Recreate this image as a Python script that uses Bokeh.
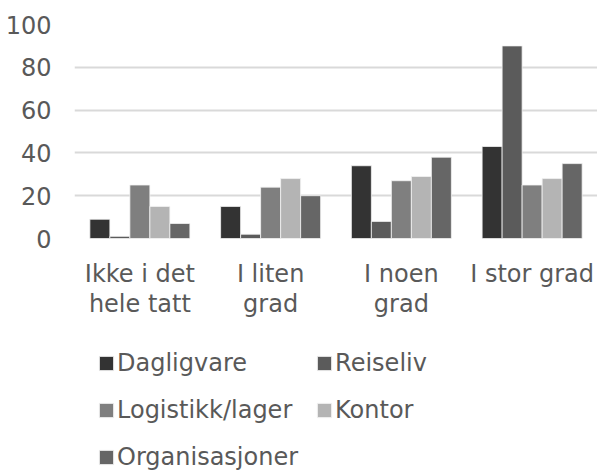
from bokeh.plotting import figure
from bokeh.layouts import column
from bokeh.models import FactorRange, Range1d, Legend, LegendItem, ColumnDataSource, FixedTicker
from bokeh.transform import dodge
from bokeh.embed import file_html
from bokeh.resources import INLINE

categories = ["Ikke i det\nhele tatt", "I liten\ngrad", "I noen\ngrad", "I stor grad"]
series_names = ["Dagligvare", "Reiseliv", "Logistikk/lager", "Kontor", "Organisasjoner"]
dagligvare = [9, 15, 34, 43]
reiseliv = [1, 2, 8, 90]
logistikk = [25, 24, 27, 25]
kontor = [15, 28, 29, 28]
organisasjoner = [7, 20, 38, 35]
y_ticks = [0, 20, 40, 60, 80, 100]

colors = ["#333333", "#5b5b5b", "#7f7f7f", "#b4b4b4", "#666666"]
FONT = "DejaVu Sans"
TXT = "#595959"

source = ColumnDataSource(dict(cat=categories, s0=dagligvare, s1=reiseliv,
                               s2=logistikk, s3=kontor, s4=organisasjoner))

p = figure(x_range=FactorRange(factors=categories, range_padding=0),
           y_range=Range1d(0, 100),
           width=597, height=332,
           min_border_left=74, min_border_top=24, min_border_right=0, min_border_bottom=94,
           output_backend="svg", toolbar_location=None)
p.outline_line_color = None

bw = 0.153
offsets = [-2 * bw, -bw, 0, bw, 2 * bw]
for i in range(5):
    p.vbar(x=dodge("cat", offsets[i], range=p.x_range), top="s%d" % i, width=bw,
           source=source, fill_color=colors[i], line_color="#f4f4f4", line_width=0.8)

p.xgrid.grid_line_color = None
p.ygrid.grid_line_color = "#d9d9d9"
p.ygrid.grid_line_width = 2
p.yaxis.ticker = FixedTicker(ticks=y_ticks)

for ax in (p.xaxis[0], p.yaxis[0]):
    ax.axis_line_color = None
    ax.major_tick_line_color = None
    ax.minor_tick_line_color = None
    ax.major_tick_out = 0
    ax.major_tick_in = 0
    ax.minor_tick_out = 0
    ax.major_label_text_font = FONT
    ax.major_label_text_font_size = "24px"
    ax.major_label_text_color = TXT
p.yaxis.major_label_standoff = 23
p.xaxis.major_label_standoff = 21
p.xaxis.major_label_text_line_height = 1.1

# legend panel (a second, axis-less figure below the chart)
lg = figure(width=597, height=140, x_range=Range1d(0, 1), y_range=Range1d(0, 1),
            min_border=0, output_backend="svg", toolbar_location=None)
lg.axis.visible = False
lg.grid.visible = False
lg.outline_line_color = None
swatches = []
for i in range(5):
    # placeholder renderer outside the visible range, only used for the legend swatch
    swatches.append(lg.vbar(x=[-5], top=[0], bottom=[0], width=0,
                            fill_color=colors[i], line_color="#f4f4f4"))

legend = Legend(items=[LegendItem(label=series_names[i], renderers=[swatches[i]]) for i in range(5)],
                orientation="horizontal", ncols=2, location=(23, 0),
                label_text_font=FONT, label_text_font_size="24px", label_text_color=TXT,
                glyph_width=18, glyph_height=18, label_standoff=2,
                label_height=30, spacing=17, padding=0, margin=0,
                border_line_color=None, background_fill_alpha=0)
lg.add_layout(legend)

open("out.html", "w").write(file_html(column(p, lg), INLINE))
